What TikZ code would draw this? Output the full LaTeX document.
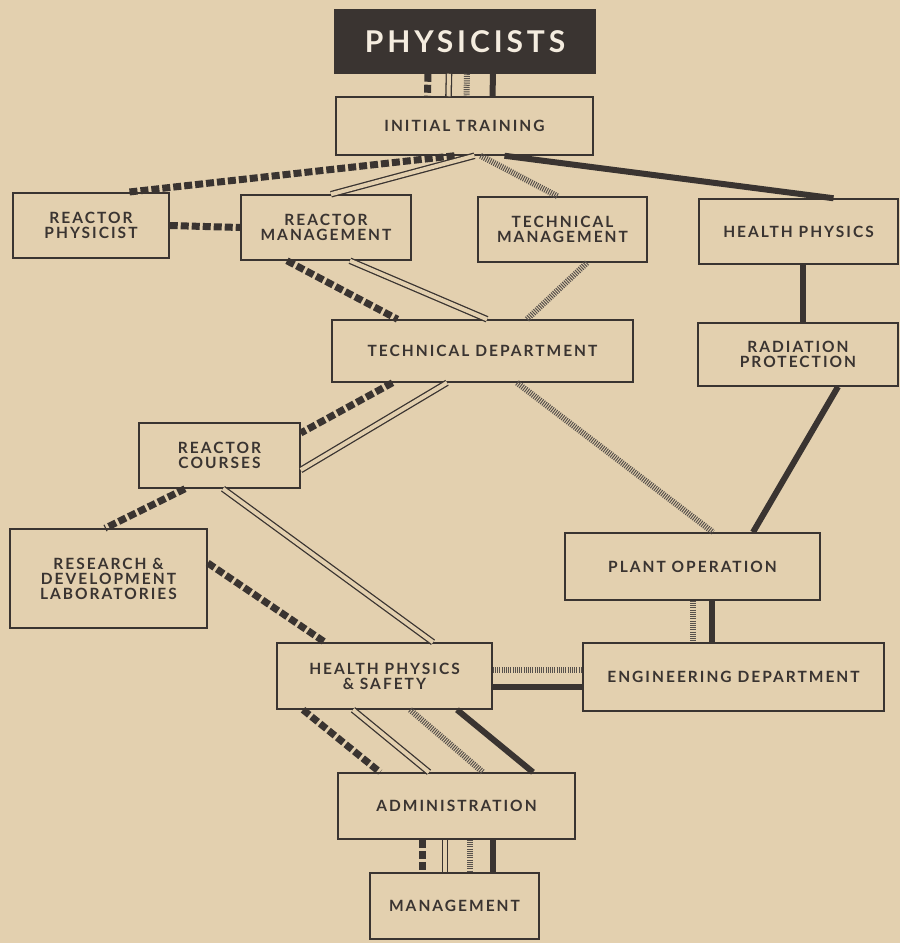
\documentclass[tikz,border=0pt]{standalone}
\usepackage{fontspec}
\setmainfont[LetterSpace=13]{Lato}
\usepackage{tikz}
\definecolor{paper}{HTML}{E3D0AF}
\definecolor{ink}{HTML}{3A3431}
\definecolor{hatch}{HTML}{57514C}

\begin{document}
\begin{tikzpicture}[x=1pt,y=-1pt,
    box/.style={draw=ink,line width=1.5pt,fill=paper,text=ink,align=center,inner sep=0pt,
        font=\bfseries\fontsize{15.5}{15}\selectfont},
    dashline/.style={draw=ink,line width=7pt,dash pattern=on 8pt off 3pt},
    dblline/.style={draw=ink,double=paper,line width=1.3pt,double distance=4pt},
    hatchline/.style={draw=hatch,line width=6pt,dash pattern=on 1pt off 1.2pt},
    solidline/.style={draw=ink,line width=6pt}]

    \fill[paper] (0,0) rectangle (900,943);
    \useasboundingbox (0,0) rectangle (900,943);

    \node[box,fill=ink,text=paper!40!white,minimum width=260pt,minimum height=63pt,
        font=\bfseries\fontsize{30}{30}\selectfont]          (phys) at (465,41.5)    {PHYSICISTS};
    \node[box,minimum width=257pt,minimum height=58pt]      (init) at (464.5,126)   {INITIAL TRAINING};
    \node[box,minimum width=156pt,minimum height=65pt]      (rphys) at (91,225.5)   {REACTOR\\PHYSICIST};
    \node[box,minimum width=170pt,minimum height=65pt]      (rman) at (326,227.5)   {REACTOR\\MANAGEMENT};
    \node[box,minimum width=169pt,minimum height=65pt]      (tman) at (562.5,229.5) {TECHNICAL\\MANAGEMENT};
    \node[box,minimum width=199pt,minimum height=65pt]      (hphys) at (798.5,231.5) {HEALTH PHYSICS};
    \node[box,minimum width=301pt,minimum height=62pt]      (tdep) at (482.5,351)   {TECHNICAL DEPARTMENT};
    \node[box,minimum width=200pt,minimum height=63pt]      (radprot) at (798,354.5) {RADIATION\\PROTECTION};
    \node[box,minimum width=161pt,minimum height=65pt]      (rcourse) at (219.5,455.5) {REACTOR\\COURSES};
    \node[box,minimum width=197pt,minimum height=99pt]      (rdlab) at (108.5,578.5) {RESEARCH \&\\DEVELOPMENT\\LABORATORIES};
    \node[box,minimum width=255pt,minimum height=67pt]      (plant) at (692.5,566.5) {PLANT OPERATION};
    \node[box,minimum width=215pt,minimum height=66pt]      (hps) at (384.5,676)    {HEALTH PHYSICS\\\& SAFETY};
    \node[box,minimum width=301pt,minimum height=68pt]      (eng) at (733.5,677)    {ENGINEERING DEPARTMENT};
    \node[box,minimum width=237pt,minimum height=66pt]      (admin) at (456.5,806)  {ADMINISTRATION};
    \node[box,minimum width=169pt,minimum height=66pt]      (mgmt) at (454.5,906)   {MANAGEMENT};


    \draw ([xshift=-37pt]phys.south) edge[dashline]  ([xshift=-37pt]init.north);
    \draw ([xshift=-16pt]phys.south) edge[dblline]   ([xshift=-16pt]init.north);
    \draw ([xshift=2pt]phys.south)   edge[hatchline] ([xshift=2pt]init.north);
    \draw ([xshift=28pt]phys.south)  edge[solidline] ([xshift=28pt]init.north);

    \draw ([xshift=-10pt]init.south) edge[dashline]  ([xshift=36pt]rphys.north);
    \draw ([xshift=10pt]init.south)  edge[dblline]   ([xshift=5pt]rman.north);
    \draw ([xshift=16pt]init.south)  edge[hatchline] ([xshift=-5pt]tman.north);
    \draw ([xshift=40pt]init.south)  edge[solidline] ([xshift=35pt]hphys.north);

    \draw (rphys.east) edge[dashline] (rman.west);
    \draw ([xshift=-39pt]rman.south) edge[dashline]  ([xshift=-85pt]tdep.north);
    \draw ([xshift=24pt]rman.south)  edge[dblline]   ([xshift=4.5pt]tdep.north);
    \draw ([xshift=24.5pt]tman.south) edge[hatchline] ([xshift=44.5pt]tdep.north);
    \draw ([xshift=4.5pt]hphys.south) edge[solidline] ([xshift=5pt]radprot.north);

    \draw ([xshift=-90pt]tdep.south) edge[dashline]  ([yshift=22.5pt]rcourse.east);
    \draw ([xshift=-35.5pt]tdep.south) edge[dblline] ([yshift=-14.5pt]rcourse.east);
    \draw ([xshift=34.5pt]tdep.south) edge[hatchline] ([xshift=20.5pt]plant.north);
    \draw ([xshift=40pt]radprot.south) edge[solidline] ([xshift=60.5pt]plant.north);

    \draw ([xshift=-34.5pt]rcourse.south) edge[dashline] ([xshift=-3.5pt]rdlab.north);
    \draw ([xshift=3.5pt]rcourse.south) edge[dblline]   ([xshift=48.5pt]hps.north);
    \draw ([yshift=15.5pt]rdlab.east)   edge[dashline]  ([xshift=-59.5pt]hps.north);

    \draw ([yshift=6pt]hps.east)   edge[hatchline] ([yshift=7pt]eng.west);
    \draw ([yshift=-11pt]hps.east) edge[solidline] ([yshift=-10pt]eng.west);
    \draw ([xshift=0.5pt]plant.south)  edge[hatchline] ([xshift=-40.5pt]eng.north);
    \draw ([xshift=19.5pt]plant.south) edge[solidline] ([xshift=-21.5pt]eng.north);

    \draw ([xshift=-81.5pt]hps.south) edge[dashline]  ([xshift=-76.5pt]admin.north);
    \draw ([xshift=-31.5pt]hps.south) edge[dblline]   ([xshift=-27.5pt]admin.north);
    \draw ([xshift=25.5pt]hps.south)  edge[hatchline] ([xshift=26.5pt]admin.north);
    \draw ([xshift=72.5pt]hps.south)  edge[solidline] ([xshift=76.5pt]admin.north);

    \draw ([xshift=-34.5pt]admin.south) edge[dashline]  ([xshift=-32.5pt]mgmt.north);
    \draw ([xshift=-11.5pt]admin.south) edge[dblline]   ([xshift=-9.5pt]mgmt.north);
    \draw ([xshift=13.5pt]admin.south)  edge[hatchline] ([xshift=15.5pt]mgmt.north);
    \draw ([xshift=36.5pt]admin.south)  edge[solidline] ([xshift=38.5pt]mgmt.north);
  \end{tikzpicture}
\end{document}
